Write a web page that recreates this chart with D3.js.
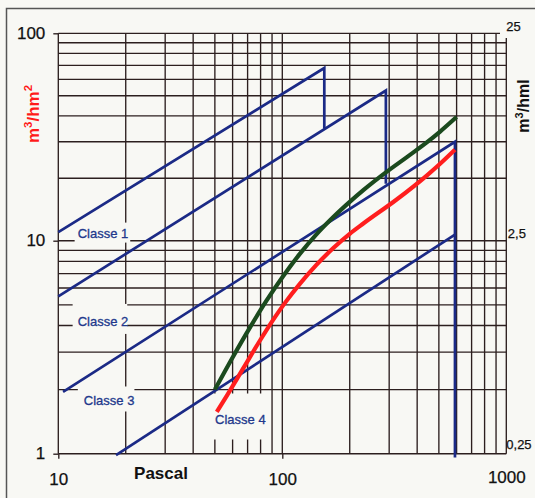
<!DOCTYPE html>
<html><head><meta charset="utf-8">
<script src="https://cdn.jsdelivr.net/npm/d3@7"></script>
<style>
html,body{margin:0;padding:0;background:#f8f8f4;}
svg{display:block;font-family:"Liberation Sans",Arial,sans-serif;}
</style></head><body>
<svg id="c" width="535" height="498"></svg>
<script>
// ---- data ----
const xTickValues = [10, 100, 1000];
const yTickValues = [1, 10, 100];
const yRightTickValues = [0.25, 2.5, 25];
const classNames = ["Classe 1", "Classe 2", "Classe 3", "Classe 4"];
const classe1 = [[10, 11.0], [154, 68], [154, 34.8]];
const classe2 = [[10, 5.48], [290, 53], [290, 18.8]];
const classe3 = [[10.5, 1.95], [590, 30], [590, 0.96]];
const classe4 = [[18.1, 0.985], [590, 10.7]];
const greenCurve = [[50,2.0],[60,2.83],[72,3.94],[85,5.23],[101,6.83],[120,8.7],[142,10.73],[169,13.0],[200,15.38],[230,17.52],[292,21.46],[360,25.3],[440,29.7],[505,33.5],[600,39.5]];
const redCurve = [[51,1.57],[56.5,1.87],[67,2.52],[79.5,3.4],[91,4.25],[103,5.12],[120,6.29],[142,7.7],[169,9.24],[200,10.79],[230,12.1],[324,15.8],[440,20.56],[505,23.44],[590,27.47]];
const labelAnchors = [[12.2, 10.35], [12.2, 3.98], [13.0, 1.684], [50.1, 1.386]];
const xTitle = "Pascal";

// ---- scales ----
const FONT = '"Liberation Sans", Arial, sans-serif';
const svg = d3.select("#c");
const x = d3.scaleLog().domain([10, 1000]).range([58.3, 506.3]);
const y = d3.scaleLog().domain([1, 10, 100]).range([453.7, 240.7, 33.3]);
const yr = d3.scaleLog().domain([0.25, 2.5, 25]).range([453.7, 240.7, 33.3]);

// background + frame
svg.append("rect").attr("width", 535).attr("height", 498).attr("fill", "#f8f8f4");
svg.append("path").attr("d", "M6.5,498 L6.5,8.5 L535,8.5").attr("fill", "none")
  .attr("stroke", "#555").attr("stroke-width", 1.5);

// grid
const gridColor = "#2c1f1f";
const gridW = 1.35;
const xGrid = [], yGrid = [];
[10, 100].forEach(d => { for (let k = 1; k <= 9; k++) xGrid.push(k * d); });
xGrid.push(1000);
[1, 10].forEach(d => { for (let k = 1; k <= 9; k++) yGrid.push(k * d); });
yGrid.push(100);
const g = svg.append("g");
g.selectAll("line.v").data(xGrid).join("line")
  .attr("x1", d => x(d)).attr("x2", d => x(d))
  .attr("y1", d => d === 1000 ? 38 : y(100)).attr("y2", y(1))
  .attr("stroke", gridColor).attr("stroke-width", gridW);
g.selectAll("line.h").data(yGrid).join("line")
  .attr("x1", x(10)).attr("x2", d => d === 100 ? 500 : x(1000))
  .attr("y1", d => y(d)).attr("y2", d => y(d))
  .attr("stroke", gridColor).attr("stroke-width", gridW);

// axes (labels)
const axL = svg.append("g").attr("transform", `translate(${x(10)},0)`)
  .call(d3.axisLeft(y).tickValues(yTickValues).tickFormat(d3.format("d")).tickSize(5).tickPadding(8));
const axB = svg.append("g").attr("transform", `translate(0,${y(1)})`)
  .call(d3.axisBottom(x).tickValues(xTickValues).tickFormat(d3.format("d")).tickSize(5));
const axR = svg.append("g").attr("transform", `translate(${x(1000)},0)`)
  .call(d3.axisRight(yr).tickValues(yRightTickValues).tickFormat(d => String(d).replace(".", ",")).tickSize(0).tickPadding(0));
[axL, axB, axR].forEach(a => {
  a.attr("font-family", FONT);
  a.select(".domain").remove();
  a.selectAll(".tick line").attr("stroke", gridColor).attr("stroke-width", gridW);
  a.selectAll("text").attr("fill", "#111").attr("stroke", "#111").attr("stroke-width", 0.25);
});
axL.selectAll("text").attr("font-size", 17).attr("dy", "0.3em");
axB.selectAll("text").attr("font-size", 17).attr("y", 31).attr("dy", 0);
axB.selectAll(".tick").filter(d => d === 1000).select("text").attr("y", 29);
axB.selectAll(".tick").filter(d => d === 1000).select("line").attr("y2", 4).attr("stroke-width", 1.5).attr("stroke-dasharray", "0,4,1,0");
axR.selectAll("text").attr("font-size", 13).attr("x", 0).attr("dy", -3).attr("text-anchor", "start");
axR.selectAll(".tick").filter(d => d === 2.5).select("text").attr("x", 1.5).attr("dy", -3.5);
axR.selectAll(".tick").filter(d => d === 0.25).select("text").attr("dy", -5.5);

// label boxes + labels (boxes mask the grid behind each label, as in the scan)
const boxPads = [[3, 3, 2, 2], [5, 10, -1, 5], [6, 7, 0, 3], [7, 18, -3, 13]];
const labG = svg.append("g");
const labTexts = labelAnchors.map((a, i) => labG.append("text")
  .attr("x", x(a[0])).attr("y", y(a[1]))
  .attr("font-size", 13).attr("fill", "#22388c")
  .attr("stroke", "#22388c").attr("stroke-width", 0.3)
  .text(classNames[i]));
const boxG = svg.insert("g", () => labG.node());
labTexts.forEach((t, i) => {
  const b = t.node().getBBox(), p = boxPads[i];
  boxG.append("rect").attr("x", b.x - p[0]).attr("y", b.y - p[1])
    .attr("width", b.width + p[0] + p[2]).attr("height", b.height + p[1] + p[3]).attr("fill", "#f8f8f4");
});

// lines
const lineGen = d3.line().x(d => x(d[0])).y(d => y(d[1]));
const lineG = svg.insert("g", () => labG.node());
[classe1, classe2, classe3, classe4].forEach(c => {
  lineG.append("path").attr("d", lineGen(c)).attr("fill", "none")
    .attr("stroke", "#1b2a86").attr("stroke-width", 2.7).attr("stroke-linejoin", "miter");
});
const curveGen = d3.line().x(d => x(d[0])).y(d => y(d[1])).curve(d3.curveMonotoneX);
lineG.append("path").attr("d", curveGen(greenCurve)).attr("fill", "none")
  .attr("stroke", "#1b4a1e").attr("stroke-width", 4.2);
lineG.append("path").attr("d", curveGen(redCurve)).attr("fill", "none")
  .attr("stroke", "#ff1e1e").attr("stroke-width", 4.2);

// titles
svg.append("text").attr("x", 161).attr("y", 479).attr("text-anchor", "middle")
  .attr("font-size", 17).attr("font-weight", "bold").attr("fill", "#111").text(xTitle);
const lt = svg.append("text").attr("transform", "translate(38.5,114) rotate(-90)")
  .attr("text-anchor", "middle").attr("font-size", 17).attr("font-weight", "bold").attr("fill", "#ff1a1a");
lt.append("tspan").text("m");
lt.append("tspan").attr("dy", -7).attr("font-size", 11.5).text("3");
lt.append("tspan").attr("dy", 7).text("/hm");
lt.append("tspan").attr("dy", -7).attr("font-size", 11.5).text("2");
const rt = svg.append("text").attr("transform", "translate(528.5,106) rotate(-90)")
  .attr("text-anchor", "middle").attr("font-size", 16).attr("font-weight", "bold").attr("fill", "#111");
rt.append("tspan").text("m");
rt.append("tspan").attr("dy", -6).attr("font-size", 11).text("3");
rt.append("tspan").attr("dy", 6).text("/hml");
</script>
</body></html>
